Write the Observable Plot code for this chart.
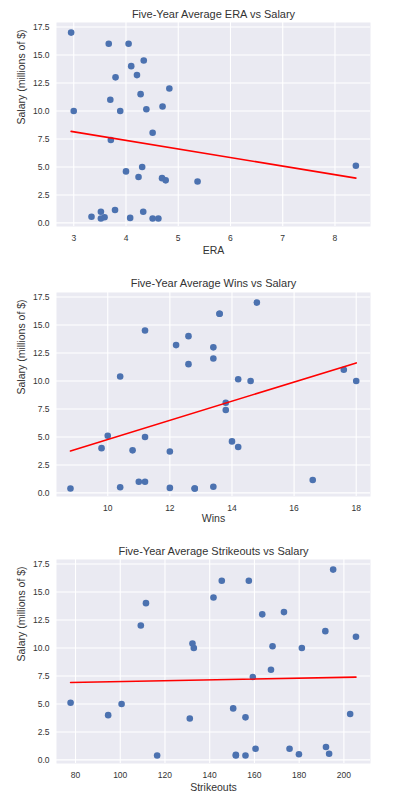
<!DOCTYPE html>
<html>
<head>
<meta charset="utf-8">
<script src="https://cdn.jsdelivr.net/npm/d3@7"></script>
<script src="https://cdn.jsdelivr.net/npm/@observablehq/plot@0.6"></script>
<style>
  html, body { margin: 0; padding: 0; background: #fff; }
  #chart svg { display: block; }
</style>
</head>
<body>
<div id="chart"></div>
<script>
// Salary (millions of $) and five-year averages for each pitcher
const salary = [17.0, 16.0, 16.0, 14.5, 14.0, 13.0, 13.2, 12.0, 11.0, 11.5, 10.0, 10.0, 10.15, 10.4, 8.05, 7.4,
  5.1, 5.0, 4.6, 4.1, 4.0, 3.8, 3.7, 1.15, 1.0, 1.0, 0.55, 0.5, 0.45, 0.4, 0.4, 0.4];
const era = [2.95, 3.67, 4.05, 4.34, 4.10, 3.80, 4.21, 4.83, 3.70, 4.28, 3.00, 3.89, 4.39, 4.70, 4.51, 3.71,
  8.40, 4.31, 4.00, 4.24, 4.69, 4.76, 5.37, 3.79, 3.52, 4.33, 3.34, 3.59, 4.08, 3.52, 4.51, 4.62];
const wins = [14.8, 13.6, 13.6, 11.2, 12.6, 13.4, 12.2, 13.4, 17.6, 12.6, 14.6, 18.0, 14.2, 10.4, 13.8, 13.8,
  10.0, 11.2, 14.0, 14.2, 9.8, 10.8, 12.0, 16.6, 11.0, 11.2, 13.4, 10.4, 12.0, 8.8, 12.8, 12.8];
const strikeouts = [195.2, 145.4, 157.5, 141.7, 111.5, 163.5, 173.2, 109.2, 205.4, 191.7, 132.9, 181.2, 168.1, 132.3, 167.4, 159.3,
  77.8, 100.6, 150.5, 202.8, 94.6, 156.0, 131.1, 192.0, 160.5, 175.7, 193.4, 179.9, 151.7, 116.5, 151.7, 156.0];

const yTicks = [0, 2.5, 5, 7.5, 10, 12.5, 15, 17.5];
const eraTicks = [3, 4, 5, 6, 7, 8];
const winsTicks = [10, 12, 14, 16, 18];
const soTicks = [80, 100, 120, 140, 160, 180, 200];

const titles = ["Five-Year Average ERA vs Salary", "Five-Year Average Wins vs Salary", "Five-Year Average Strikeouts vs Salary"];
const xLabels = ["ERA", "Wins", "Strikeouts"];
const yLabel = "Salary (millions of $)";

const rows = salary.map((s, i) => ({salary: s, era: era[i], wins: wins[i], so: strikeouts[i]}));

const font = "'Liberation Sans', Arial, Helvetica, sans-serif";
const textColor = "#333";

function panel({key, xDomain, xTicks, title, xLabel, height, marginTop, marginBottom, titleDy, labelDy}) {
  return Plot.plot({
    width: 398,
    height,
    marginTop,
    marginBottom,
    marginLeft: 56,
    marginRight: 28,
    style: {fontFamily: font, color: textColor, background: "#fff", fontSize: "8.5px"},
    x: {domain: xDomain, ticks: xTicks},
    y: {domain: [-0.32, 17.9], ticks: yTicks},
    marks: [
      Plot.frame({fill: "#EAEAF2", stroke: "none"}),
      Plot.gridX({ticks: xTicks, stroke: "#fff", strokeOpacity: 1, strokeWidth: 1.1}),
      Plot.gridY({ticks: yTicks, stroke: "#fff", strokeOpacity: 1, strokeWidth: 1.1}),
      Plot.axisX({ticks: xTicks, tickSize: 0, tickPadding: 8, label: null, tickFormat: d3.format("d"), fontSize: 8.5}),
      Plot.axisY({ticks: yTicks, tickSize: 0, tickPadding: 7, label: null, tickFormat: d3.format(".1f"), fontSize: 8.5}),
      Plot.dot(rows, {x: key, y: "salary", r: 3.3, fill: "#4C72B0", stroke: "none"}),
      Plot.linearRegressionY(rows, {x: key, y: "salary", stroke: "#ff0000", strokeWidth: 1.6, ci: 0}),
      Plot.text([title], {text: d => d, frameAnchor: "top", lineAnchor: "middle", dy: titleDy, fontSize: 11}),
      Plot.text([xLabel], {text: d => d, frameAnchor: "bottom", lineAnchor: "middle", dy: labelDy, fontSize: 10.5}),
      Plot.text([yLabel], {text: d => d, frameAnchor: "left", lineAnchor: "middle", dx: -35, rotate: -90, fontSize: 10.5})
    ]
  });
}

const chart = document.getElementById("chart");
chart.append(panel({key: "era", xDomain: [2.67, 8.68], xTicks: eraTicks, title: titles[0], xLabel: xLabels[0],
  height: 262, marginTop: 22, marginBottom: 36, titleDy: -8, labelDy: 24}));
chart.append(panel({key: "wins", xDomain: [8.35, 18.46], xTicks: winsTicks, title: titles[1], xLabel: xLabels[1],
  height: 268, marginTop: 30, marginBottom: 34, titleDy: -9.5, labelDy: 22}));
chart.append(panel({key: "so", xDomain: [71.5, 211.9], xTicks: soTicks, title: titles[2], xLabel: xLabels[2],
  height: 275, marginTop: 29, marginBottom: 42, titleDy: -8.5, labelDy: 24}));
</script>
</body>
</html>
